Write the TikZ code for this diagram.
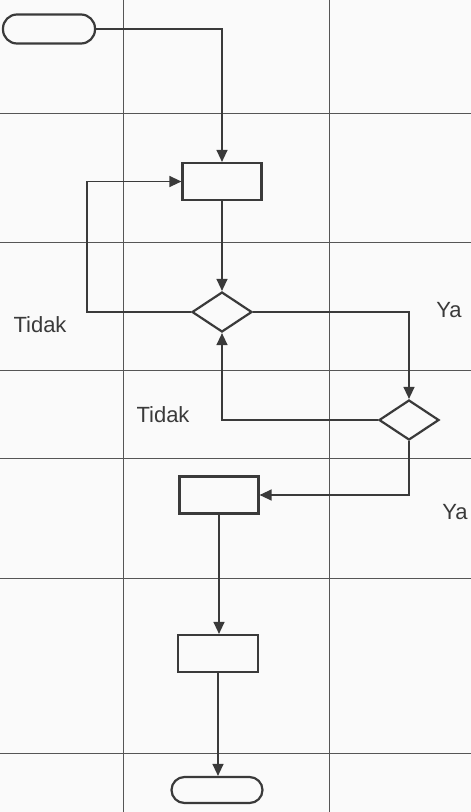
\documentclass[tikz,border=0pt]{standalone}
\usepackage{fontspec}
\setmainfont{Liberation Sans}
\usetikzlibrary{arrows.meta,shapes.geometric}
\definecolor{ink}{HTML}{3A3A3A}
\definecolor{gridc}{HTML}{555555}
\definecolor{paper}{HTML}{FAFAFA}
\tikzset{
  gridline/.style={draw=gridc, line width=1pt},
  procbox/.style={draw=ink, line width=2.2pt, minimum width=79pt, minimum height=37pt, inner sep=0pt},
  termbox/.style={draw=ink, line width=2.2pt, rounded corners=13pt, inner sep=0pt},
  decbox/.style={draw=ink, line width=2.2pt, diamond, aspect=1.5, minimum width=60pt, minimum height=40pt, inner sep=0pt},
  conn/.style={draw=ink, line width=1.3pt},
  arr/.style={conn, -{Triangle[length=12pt,width=11pt]}},
  lbl/.style={text=ink, font=\fontsize{22}{26}\selectfont, inner sep=0pt}
}
\begin{document}
\begin{tikzpicture}[x=1pt,y=-1pt]
\useasboundingbox[fill=paper] (0,0) rectangle (471,812);
% grid
\foreach \gx in {123,329} \draw[gridline] (\gx,0) -- (\gx,812);
\foreach \gy in {113,242,370,458,578,753} \draw[gridline] (0,\gy) -- (471,\gy);
% nodes
\node[termbox, minimum width=92pt, minimum height=29pt, rounded corners=14pt] (start) at (49,29) {};
\node[procbox] (box1) at (222,181.5) {};
\node[decbox] (d1) at (222,312) {};
\node[decbox] (d2) at (409,420) {};
\node[procbox] (box2) at (219,495) {};
\node[procbox, minimum width=80pt] (box3) at (218,653.5) {};
\node[termbox, minimum width=91pt, minimum height=26pt] (stop) at (217,790) {};
\coordinate (loopL) at (87,312);
% connectors
\draw[arr] (start.east) -| (box1.north);
\draw[arr] (box1.south) -- (d1.north);
\draw[arr] (d1.west) -- (loopL) |- (box1.west);
\draw[arr] (d1.east) -| (d2.north);
\draw[arr] (d2.west) -| (d1.south);
\draw[arr] (d2.south) |- (box2.east);
\draw[arr] (box2.south) -- (box2.south |- box3.north);
\draw[arr] (box3.south) -- (box3.south |- stop.north);
% labels
\node[lbl] (t1) at (40,325) {Tidak};
\node[lbl] (y1) at (449,310) {Ya};
\node[lbl] (t2) at (163,415) {Tidak};
\node[lbl] (y2) at (455,512) {Ya};
\end{tikzpicture}
\end{document}
